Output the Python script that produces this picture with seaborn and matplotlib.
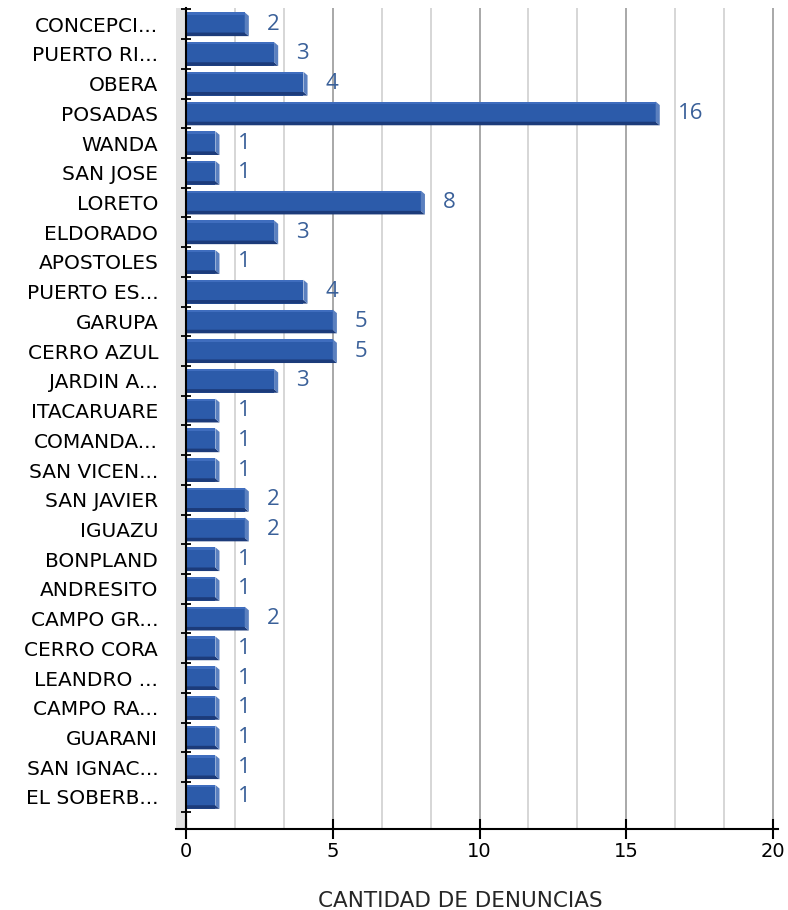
import matplotlib
matplotlib.use('Agg')
import matplotlib.pyplot as plt
import seaborn as sns
import pandas as pd
from matplotlib.patches import Polygon
from matplotlib.ticker import MultipleLocator, FixedLocator

# data
municipios = ['CONCEPCI...', 'PUERTO RI...', 'OBERA', 'POSADAS', 'WANDA', 'SAN JOSE',
              'LORETO', 'ELDORADO', 'APOSTOLES', 'PUERTO ES...', 'GARUPA', 'CERRO AZUL',
              'JARDIN A...', 'ITACARUARE', 'COMANDA...', 'SAN VICEN...', 'SAN JAVIER',
              'IGUAZU', 'BONPLAND', 'ANDRESITO', 'CAMPO GR...', 'CERRO CORA',
              'LEANDRO ...', 'CAMPO RA...', 'GUARANI', 'SAN IGNAC...', 'EL SOBERB...']
denuncias = [2, 3, 4, 16, 1, 1, 8, 3, 1, 4, 5, 5, 3, 1, 1, 1, 2, 2, 1, 1, 2, 1, 1, 1, 1, 1, 1]
x_ticks = [0, 5, 10, 15, 20]
x_label = 'CANTIDAD DE DENUNCIAS'

df = pd.DataFrame({'municipio': municipios, 'denuncias': denuncias})

sns.set_style('white')
plt.rcParams['font.family'] = ['DejaVu Sans']
plt.rcParams['text.color'] = 'black'
plt.rcParams['xtick.color'] = 'black'
plt.rcParams['ytick.color'] = 'black'

fig = plt.figure(figsize=(7.88, 9.10), dpi=100)
ax = fig.add_axes([0.2234, 0.089, 0.764, 0.902])

# pared gris a la izquierda
ax.axvspan(-0.34, 0, color='#e2e2e2', zorder=0)

sns.barplot(data=df, x='denuncias', y='municipio', orient='h', color='#2C5BAA',
            width=0.8, saturation=1, ax=ax, zorder=3)

# efecto 3D: franja oscura abajo, brillo arriba y cara lateral clara
dx = 0.14
for p in ax.containers[0].patches:
    x0 = p.get_x()
    w = p.get_width()
    y0 = p.get_y()
    h = p.get_height()
    y1 = y0 + h
    p.set_edgecolor('none')
    ax.add_patch(Polygon([(x0, y1 - 0.12), (x0 + w, y1 - 0.12), (x0 + w + dx, y1), (x0, y1)],
                         closed=True, facecolor='#1C3B7A', edgecolor='none', zorder=4))
    ax.add_patch(Polygon([(x0 + w, y0), (x0 + w + dx, y0 + 0.12), (x0 + w + dx, y1), (x0 + w, y1 - 0.12)],
                         closed=True, facecolor='#5B80BF', edgecolor='none', zorder=4))
    ax.add_patch(Polygon([(x0, y0), (x0 + w, y0), (x0 + w, y0 + 0.08), (x0, y0 + 0.08)],
                         closed=True, facecolor='#3F6DBE', edgecolor='none', zorder=4))

for i, v in enumerate(denuncias):
    ax.annotate(str(v), xy=(v, i), xytext=(16, 0), textcoords='offset points',
                va='center', ha='left', fontsize=16, color='#3A6099',
                family=['Open Sans', 'DejaVu Sans'])

ax.set_xlim(-0.34, 20.17)
ax.set_ylim(len(municipios) - 1 + 1.08, -0.54)

# grilla
ax.xaxis.set_minor_locator(MultipleLocator(5 / 3))
ax.set_xticks(x_ticks)
ax.grid(axis='x', which='minor', color='#cfcfcf', linewidth=1.2, zorder=1)
ax.grid(axis='x', which='major', color='#9a9a9a', linewidth=1.2, zorder=1)
ax.grid(axis='y', visible=False)

for s in ['top', 'right']:
    ax.spines[s].set_visible(False)
ax.spines['left'].set_position(('data', 0))
ax.spines['left'].set_color('black')
ax.spines['left'].set_linewidth(1.5)
ax.spines['left'].set_zorder(5)
ax.spines['bottom'].set_color('black')
ax.spines['bottom'].set_linewidth(1.5)

ax.tick_params(axis='x', which='major', direction='inout', length=14, width=1.5,
               labelsize=14, pad=2, bottom=True)
ax.tick_params(axis='x', which='minor', length=0)
ax.yaxis.set_minor_locator(FixedLocator([i + 0.5 for i in range(-1, len(municipios))]))
ax.tick_params(axis='y', which='minor', direction='inout', length=7, width=1.3, left=True)
ax.tick_params(axis='y', which='major', length=0, labelsize=14.5, pad=20)

ax.set_ylabel('')
ax.set_xlabel(x_label, fontsize=15.5)
ax.xaxis.set_label_coords(0.472, -0.075)

plt.savefig('out.png', dpi=100)
